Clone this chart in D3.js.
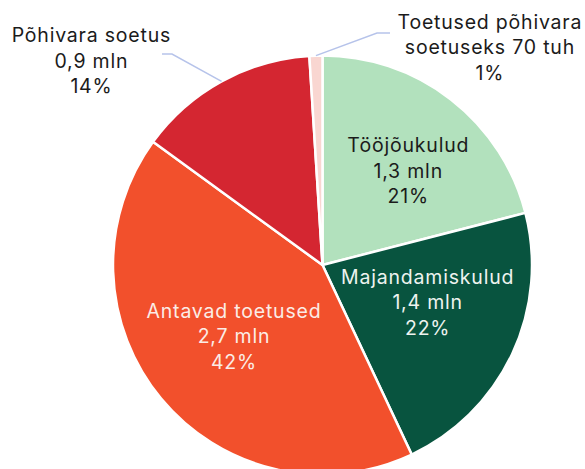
<!DOCTYPE html>
<html>
<head>
<meta charset="utf-8">
<script src="https://cdn.jsdelivr.net/npm/d3@7"></script>
<style>
  html, body { margin: 0; padding: 0; background: #fff; }
  svg { display: block; font-family: Inter, "Noto Sans", sans-serif; }
</style>
</head>
<body>
<svg id="chart" width="585" height="469"></svg>
<script>
// Expense categories, their amounts and shares of the total
const categories = ["Tööjõukulud", "Majandamiskulud", "Antavad toetused", "Põhivara soetus", "Toetused põhivara soetuseks"];
const amountLabels = ["1,3 mln", "1,4 mln", "2,7 mln", "0,9 mln", "70 tuh"];
const shares = [21, 22, 42, 14, 1];

const colors = ["#b2e1bd", "#08543f", "#f2502c", "#d42631", "#f9d6d1"];
const textColors = ["#1b1b1b", "#eef3ef", "#fbece6", "#1b1b1b", "#1b1b1b"];

const width = 585, height = 469;
const cx = 322.5, cy = 265, radius = 209.5;
const fontSize = 19.5, lineH = 25.5, tracking = 0.8;

const svg = d3.select("#chart");
const g = svg.append("g").attr("transform", `translate(${cx},${cy})`);

const data = categories.map((c, i) => ({ name: c, amount: amountLabels[i], share: shares[i], i }));

const pie = d3.pie().value(d => d.share).sort(null);
const arcs = pie(data);
const arc = d3.arc().innerRadius(0).outerRadius(radius);

g.selectAll("path.slice")
  .data(arcs)
  .join("path")
  .attr("class", "slice")
  .attr("d", arc)
  .attr("fill", d => colors[d.data.i])
  .attr("stroke", "#fff")
  .attr("stroke-width", 2.5)
  .attr("stroke-linejoin", "round");

// Labels inside the larger slices
const labelArc = d3.arc().innerRadius(118).outerRadius(118);
const insideNudge = { 0: [13, -1], 1: [-2, -13], 2: [2, -4] };

function labelLines(d) {
  if (d.data.i === 4) return ["Toetused põhivara", "soetuseks " + d.data.amount, d.data.share + "%"];
  return [d.data.name, d.data.amount, d.data.share + "%"];
}

function drawLabel(x, y, lines, color) {
  const t = g.append("text")
    .attr("text-anchor", "middle")
    .attr("font-size", fontSize)
    .attr("letter-spacing", tracking)
    .attr("fill", color);
  lines.forEach((s, k) => {
    t.append("tspan")
      .attr("x", x + tracking / 2)
      .attr("y", y + (k - 1) * lineH)
      .attr("dy", "0.35em")
      .text(s);
  });
}

arcs.filter(d => d.data.share >= 20).forEach(d => {
  const [x, y] = labelArc.centroid(d);
  const n = insideNudge[d.data.i] || [0, 0];
  drawLabel(x + n[0], y + n[1], labelLines(d), textColors[d.data.i]);
});

// Outside labels with leader lines for the small slices
const edgeArc = d3.arc().innerRadius(radius).outerRadius(radius);
const outside = {
  3: { elbow: [-150.5, -211], end: [-160.5, -211], text: [-231.5, -204] },
  4: { elbow: [54.5, -232], end: [67.5, -232], text: [167, -217.5] }
};

arcs.filter(d => d.data.share < 20).forEach(d => {
  const o = outside[d.data.i];
  const start = edgeArc.centroid(d);
  g.append("polyline")
    .attr("points", [start, o.elbow, o.end].map(p => p.join(",")).join(" "))
    .attr("fill", "none")
    .attr("stroke", "#b6c3ea")
    .attr("stroke-width", 1.5);
  drawLabel(o.text[0], o.text[1], labelLines(d), textColors[d.data.i]);
});
</script>
</body>
</html>
